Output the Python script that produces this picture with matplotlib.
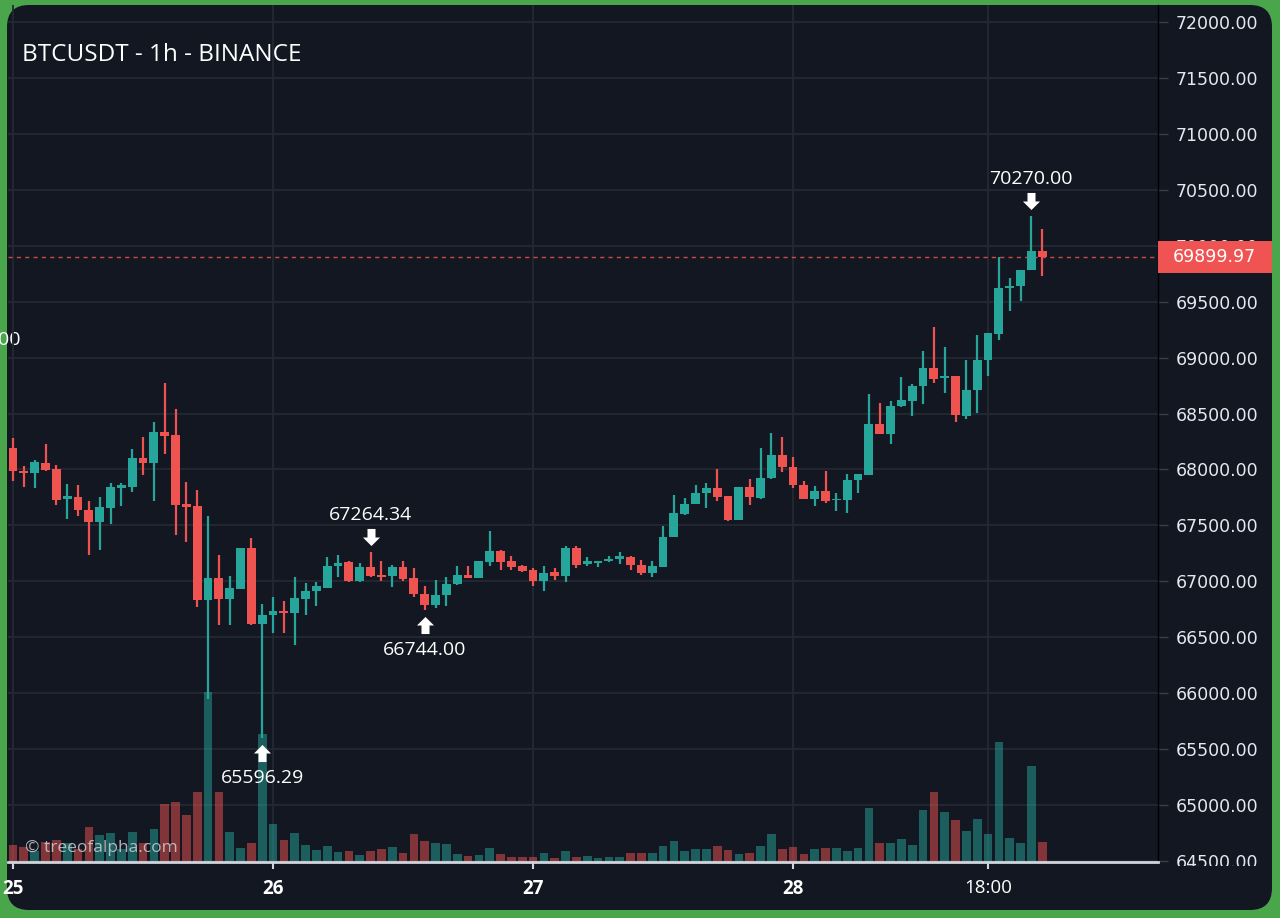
import matplotlib
matplotlib.use('Agg')
import matplotlib.pyplot as plt
from matplotlib.patches import FancyBboxPatch, Rectangle
from matplotlib.path import Path
import matplotlib.transforms as mtransforms
import numpy as np

# ---------------- data (1h candles, 25 00:00 -> 28 23:00) ----------------
opens = [68193, 67984, 67969, 68058, 68008, 67736, 67757, 67641, 67527, 67656,
         67835, 67844, 68103, 68058, 68333, 68312, 67694, 67670, 66829, 67029,
         66844, 66933, 67297, 66620, 66700, 66738, 66715, 66845, 66912, 66939,
         67133, 67169, 66999, 67127, 67049, 67049, 67127, 67029, 66885, 66790,
         66879, 66975, 67058, 67034, 67169, 67267, 67178, 67133, 67100, 67006,
         67081, 67051, 67299, 67156, 67170, 67179, 67200, 67218, 67150, 67075,
         67126, 67394, 67606, 67693, 67791, 67830, 67761, 67552, 67845, 67746,
         67925, 68125, 68024, 67863, 67739, 67805, 67723, 67727, 67902, 67953,
         68407, 68318, 68570, 68613, 68745, 68904, 68815, 68835, 68477, 68710,
         68978, 69211, 69619, 69643, 69786, 69953]
highs = [68282, 68029, 68082, 68231, 68037, 67873, 67864, 67715, 67754, 67879,
         67879, 68184, 68291, 68425, 68769, 68542, 67885, 67814, 67587, 67238,
         67044, 67300, 67387, 66796, 66856, 66820, 67043, 66984, 66990, 67217,
         67237, 67184, 67163, 67264.34, 67178, 67148, 67184, 67118, 66960, 67013,
         67043, 67139, 67139, 67184, 67452, 67276, 67228, 67148, 67120, 67135,
         67120, 67320, 67320, 67215, 67179, 67230, 67263, 67224, 67188, 67179,
         67499, 67776, 67746, 67857, 67881, 68000, 67761, 67845, 67916, 68194,
         68328, 68292, 68113, 67894, 67855, 67988, 67793, 67960, 67957, 68679,
         68594, 68609, 68827, 68768, 69060, 69274, 69099, 68835, 68978, 69204,
         69223, 69903, 69709, 69786, 70270.00, 70148]
lows = [67894, 67844, 67835, 67984, 67685, 67560, 67587, 67238, 67283, 67515,
        67670, 67796, 67954, 67721, 68139, 67417, 67348, 66769, 65950, 66611,
        66611, 66933, 66611, 65596.29, 66537, 66542, 66432, 66700, 66781, 66939,
        67043, 66995, 66995, 67043, 66999, 66948, 66999, 66864, 66744.00, 66760,
        66781, 66969, 67029, 67029, 67139, 67097, 67097, 67079, 66962, 66911,
        67015, 66991, 67120, 67141, 67129, 67170, 67158, 67099, 67060, 67036,
        67126, 67394, 67597, 67687, 67657, 67722, 67543, 67552, 67681, 67737,
        67916, 67976, 67830, 67739, 67669, 67700, 67630, 67611, 67793, 67953,
        68318, 68228, 68555, 68477, 68582, 68776, 68687, 68427, 68454, 68504,
        68834, 69153, 69417, 69503, 69786, 69728]
closes = [67984, 67969, 68064, 67999, 67730, 67760, 67641, 67527, 67661, 67841,
          67864, 68103, 68058, 68333, 68303, 67685, 67664, 66829, 67029, 66844,
          66939, 67297, 66620, 66700, 66738, 66715, 66849, 66915, 66954, 67133,
          67163, 66999, 67127, 67049, 67043, 67127, 67020, 66888, 66790, 66879,
          66975, 67058, 67034, 67178, 67267, 67169, 67127, 67088, 67003, 67075,
          67051, 67299, 67150, 67185, 67179, 67203, 67224, 67144, 67075, 67135,
          67397, 67612, 67693, 67791, 67830, 67752, 67552, 67845, 67755, 67925,
          68125, 68024, 67857, 67739, 67805, 67716, 67739, 67910, 67957, 68407,
          68318, 68570, 68621, 68745, 68904, 68807, 68835, 68485, 68710, 68978,
          69223, 69623, 69643, 69786, 69953, 69899.97]
volumes = [1336, 1224, 880, 1600, 1736, 1544, 1016, 2800, 2136, 2296, 1016, 2400,
           1544, 2664, 4616, 4824, 3736, 5624, 13600, 5624, 2400, 1144, 1496, 10264,
           3016, 1760, 2296, 1336, 936, 1280, 800, 880, 536, 880, 1016, 1176,
           696, 2216, 1680, 1496, 1416, 616, 480, 536, 1096, 616, 400, 424,
           440, 696, 344, 856, 424, 504, 296, 376, 424, 696, 696, 696,
           1256, 1656, 856, 1016, 1016, 1256, 936, 616, 696, 1256, 2216, 1016,
           1224, 664, 1016, 1096, 1144, 856, 1096, 4296, 1496, 1496, 1816, 1336,
           4160, 5576, 3976, 3336, 2456, 3440, 2216, 9656, 1920, 1496, 7656, 1576]

tick_hours = [0, 24, 48, 72, 90]
tick_labels = ['25', '26', '27', '28', '18:00']
bold_labels = ['25', '26', '27', '28']
price_ticks = [64500, 65000, 65500, 66000, 66500, 67000, 67500, 68000,
               68500, 69000, 69500, 70000, 70500, 71000, 71500, 72000]
title = 'BTCUSDT - 1h - BINANCE'
watermark = '\u00a9 treeofalpha.com'
last_price = 69899.97
marked = [(94, 'high'), (33, 'high'), (38, 'low'), (23, 'low')]
offscreen_label = '69160.00'

# ---------------- style ----------------
UP = '#26a69a'
DN = '#ef5350'
BG = '#131722'
GRID = '#242833'
BORDER = '#4aa64b'
plt.rcParams['font.family'] = ['Open Sans', 'DejaVu Sans']

W, H = 1280, 918
fig = plt.figure(figsize=(W / 100, H / 100), dpi=100)
fig.patch.set_facecolor(BORDER)

bg = fig.add_axes([0, 0, 1, 1])
bg.set_xlim(0, W)
bg.set_ylim(H, 0)
bg.axis('off')
panel = FancyBboxPatch((7, 5), 1265, 905, boxstyle='round,pad=0,rounding_size=22',
                       fc=BG, ec='none')
bg.add_patch(panel)

L, R, T, B = 8, 1158, 5, 862
ax = fig.add_axes([L / W, 1 - B / H, (R - L) / W, (B - T) / H])
ax.set_facecolor('none')

idx = np.arange(len(opens))
o = np.array(opens, float)
h = np.array(highs, float)
lo = np.array(lows, float)
c = np.array(closes, float)
v = np.array(volumes, float)
colors = [UP if cc >= oo else DN for oo, cc in zip(o, c)]

# volume (bottom overlay, max bar ~20% of pane height)
blend = mtransforms.blended_transform_factory(ax.transData, ax.transAxes)
vol_top = v.max() / 0.198
ax.bar(idx, v / vol_top, width=0.8, bottom=0, color=colors, alpha=0.5,
       transform=blend, zorder=1, linewidth=0)

# candles
ax.vlines(idx, lo, h, colors=colors, lw=1.6, zorder=3)
body_lo = np.minimum(o, c)
body_h = np.abs(c - o)
min_h = 14
mid = (o + c) / 2
body_lo = np.where(body_h < min_h, mid - min_h / 2, body_lo)
body_h = np.maximum(body_h, min_h)
ax.bar(idx, body_h, bottom=body_lo, width=0.82, color=colors, zorder=4, linewidth=0)

# axes limits (pixel mapping: 25 00:00 at x=13px, 10.833 px/hour; 72000 at y=22px)
ax.set_xlim(-0.4615, 105.69)
ax.set_ylim(64491, 72152)

ax.set_yticks(price_ticks)
ax.set_yticklabels([f'{p:.2f}' for p in price_ticks])
ax.set_xticks(tick_hours)
ax.set_xticklabels(tick_labels)
ax.grid(True, color=GRID, lw=1.3, zorder=0)
ax.set_axisbelow(True)

ax.yaxis.tick_right()
ax.tick_params(axis='y', length=7, width=1, color='#3a3e4a', pad=6,
               labelsize=12.5, labelcolor='#e6e8ee')
ax.tick_params(axis='x', length=5, width=1.5, color='#d1d4dc', pad=7,
               labelsize=13.5, labelcolor='white')
for sp in ['top', 'left']:
    ax.spines[sp].set_visible(False)
ax.spines['bottom'].set_color('#d1d4dc')
ax.spines['bottom'].set_linewidth(2)
ax.spines['right'].set_color('#000000')
ax.spines['right'].set_linewidth(1)

for lbl in ax.get_xticklabels():
    if lbl.get_text() in bold_labels:
        lbl.set_fontweight('bold')
    lbl.set_clip_on(True)
    lbl.set_clip_path(panel)
yclip = Rectangle((1150, 5), 130, 861, transform=bg.transData, fc='none', ec='none')
for lbl in ax.get_yticklabels():
    lbl.set_fontfamily('DejaVu Sans')
    lbl.set_clip_on(True)
    lbl.set_clip_path(yclip)

# last price line and tag
ax.axhline(last_price, color=DN, lw=1, ls=(0, (3, 3)), alpha=0.85, zorder=2)
tag_blend = mtransforms.blended_transform_factory(ax.transAxes, ax.transData)
tag_h = 286
ax.add_patch(Rectangle((1.0, last_price - tag_h / 2), 114 / 1150, tag_h,
                       transform=tag_blend, fc='#f05452', ec='none',
                       clip_on=False, zorder=10))
ax.text(1.0 + 15 / 1150, last_price, f'{last_price:.2f}', transform=tag_blend,
        ha='left', va='center', color='white', fontsize=12.5,
        family='DejaVu Sans', zorder=11, clip_on=False)

# high / low markers
down = Path([(-0.235, 0.5), (0.235, 0.5), (0.235, 0.0), (0.5, 0.0), (0.0, -0.5),
             (-0.5, 0.0), (-0.235, 0.0), (-0.235, 0.5)],
            [Path.MOVETO] + [Path.LINETO] * 6 + [Path.CLOSEPOLY])
up = Path([(x, -y) for x, y in down.vertices], down.codes)
for i, kind in marked:
    if kind == 'high':
        y = h[i]
        arr_off, txt_off, mk = 15, 37, down
    else:
        y = lo[i]
        arr_off, txt_off, mk = -15, -40, up
    tr = mtransforms.offset_copy(ax.transData, fig=fig, x=0, y=arr_off, units='dots')
    ax.plot([i], [y], marker=mk, ms=12.3, color='white', mew=0, ls='none',
            transform=tr, zorder=8, clip_on=False)
    ax.annotate(f'{y:.2f}', xy=(i, y), xytext=(0, txt_off * 0.72),
                textcoords='offset points', ha='center', va='center',
                color='white', fontsize=14, zorder=8)

# texts
fig.text(22, 55, title, ha='left', va='center', color='white', fontsize=17.5,
         transform=bg.transData)
fig.text(25, 848, watermark, ha='left', va='center', color='#d4d6dc',
         alpha=0.8, fontsize=12.5, transform=bg.transData)
t = bg.text(21, 340, offscreen_label, ha='right', va='center', color='white', fontsize=14)
t.set_clip_on(True)
t.set_clip_path(panel)

fig.savefig('out.png', dpi=100, facecolor=fig.get_facecolor())
